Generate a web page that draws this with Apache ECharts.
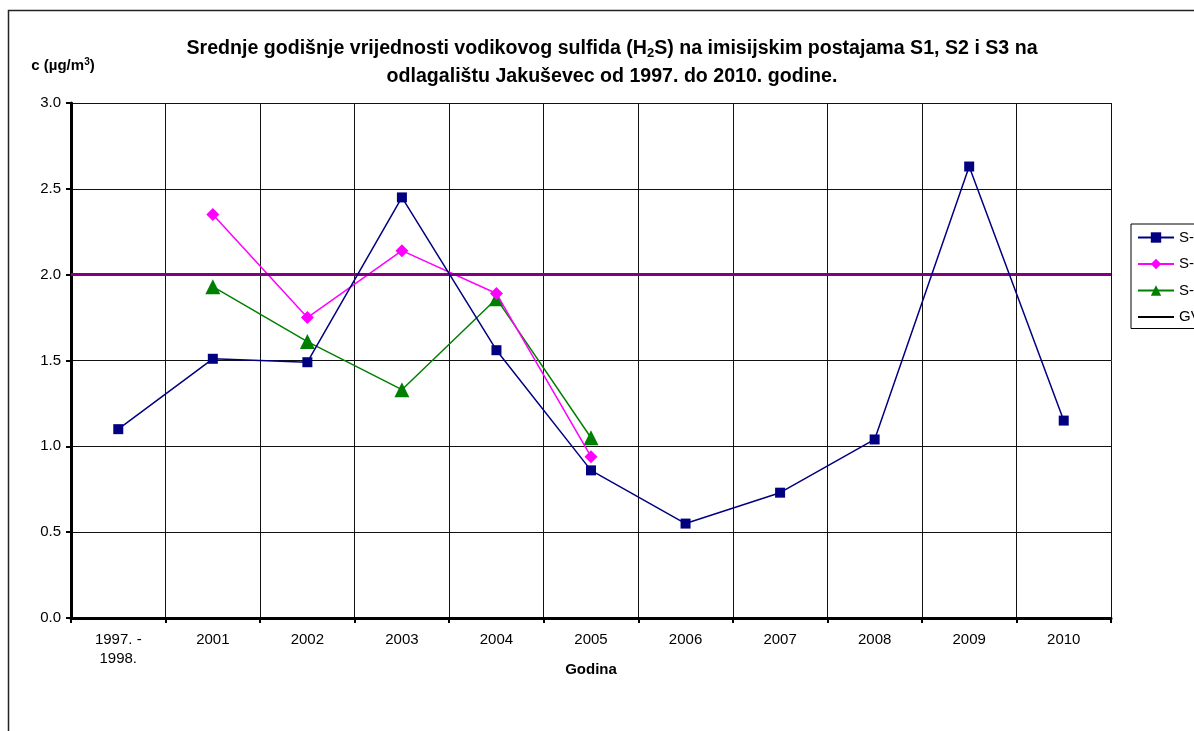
<!DOCTYPE html>
<html>
<head>
<meta charset="utf-8">
<script src="https://cdn.jsdelivr.net/npm/echarts@6/dist/echarts.min.js"></script>
<style>
  html, body { margin: 0; padding: 0; background: #fff; }
  #chart { width: 1194px; height: 731px; }
</style>
</head>
<body>
<div id="chart"></div>
<script>
// kategorije (godine)
const godine = ['1997. -\n1998.', '2001', '2002', '2003', '2004', '2005', '2006', '2007', '2008', '2009', '2010'];

// srednje godisnje vrijednosti H2S po postajama
const s1 = [1.10, 1.51, 1.49, 2.45, 1.56, 0.86, 0.55, 0.73, 1.04, 2.63, 1.15];
const s2 = [null, 2.35, 1.75, 2.14, 1.89, 0.94, null, null, null, null, null];
const s3 = [null, 1.93, 1.61, 1.33, 1.86, 1.05, null, null, null, null, null];

// granicna vrijednost
const gv = 2.0;

const yTicks = { min: 0, max: 3, interval: 0.5 };

const font = 'Liberation Sans, Arial, sans-serif';

const chart = echarts.init(document.getElementById('chart'));

const option = {
  backgroundColor: '#fff',
  animation: false,
  textStyle: { fontFamily: font },
  title: {
    text: 'Srednje godišnje vrijednosti vodikovog sulfida (H{sub|2}S) na imisijskim postajama S1, S2 i S3 na\nodlagalištu Jakuševec od 1997. do 2010. godine.',
    left: 607,
    top: 30,
    textAlign: 'center',
    textStyle: {
      fontFamily: font,
      fontSize: 19.6,
      fontWeight: 'bold',
      color: '#000',
      lineHeight: 28,
      rich: {
        sub: { fontSize: 13, fontWeight: 'bold', fontFamily: font, padding: [9, 0, 0, 0], lineHeight: 28 }
      }
    }
  },
  legend: {
    orient: 'vertical',
    left: 1131,
    top: 224,
    borderColor: '#000',
    borderWidth: 1,
    padding: [6, 20, 4, 6],
    itemGap: 11.5,
    itemWidth: 36,
    itemHeight: 13,
    textStyle: { fontFamily: font, fontSize: 15, color: '#000' },
    data: [
      'S-1', 'S-2', 'S-3',
      { name: 'GV', icon: 'path://M0,0L36,0L36,2L0,2Z', itemStyle: { color: '#000' } }
    ]
  },
  graphic: [{
    type: 'rect',
    shape: { x: 8.5, y: 10.5, width: 1200, height: 740 },
    style: { fill: 'none', stroke: '#222', lineWidth: 1.5 },
    silent: true
  }],
  grid: { left: 71, top: 103, right: 83, bottom: 113 },
  xAxis: {
    type: 'category',
    data: godine,
    boundaryGap: true,
    name: 'Godina',
    nameLocation: 'middle',
    nameGap: 44,
    nameMoveOverlap: false,
    nameTextStyle: { fontFamily: font, fontSize: 15, fontWeight: 'bold', color: '#000' },
    axisLine: { lineStyle: { color: '#000', width: 3 } },
    axisTick: { show: true, length: 5, lineStyle: { color: '#000', width: 2 } },
    axisLabel: { color: '#000', fontSize: 15, fontFamily: font, margin: 12, lineHeight: 19 },
    splitLine: { show: true, lineStyle: { color: '#111', width: 1 } }
  },
  yAxis: {
    type: 'value',
    min: yTicks.min,
    max: yTicks.max,
    interval: yTicks.interval,
    name: 'c (µg/m{sup|3})',
    nameLocation: 'end',
    nameGap: 28,
    nameTextStyle: {
      fontFamily: font, fontSize: 15, fontWeight: 'bold', color: '#000',
      padding: [0, 16, 0, 0],
      rich: {
        sup: { fontSize: 10, fontWeight: 'bold', fontFamily: font, padding: [0, 0, 8, 0] }
      }
    },
    axisLine: { show: true, lineStyle: { color: '#000', width: 3 } },
    axisTick: { show: true, length: 5, lineStyle: { color: '#000', width: 2 } },
    axisLabel: {
      color: '#000', fontSize: 15, fontFamily: font, margin: 10,
      formatter: v => v.toFixed(1)
    },
    splitLine: { show: true, lineStyle: { color: '#111', width: 1 } }
  },
  series: [
    {
      name: 'S-1',
      type: 'line',
      data: s1,
      color: '#000080',
      symbol: 'rect',
      symbolSize: 10,
      lineStyle: { width: 1.5 },
      itemStyle: { color: '#000080' },
      z: 5
    },
    {
      name: 'S-2',
      type: 'line',
      data: s2,
      color: '#ff00ff',
      symbol: 'diamond',
      symbolSize: 13,
      lineStyle: { width: 1.5 },
      itemStyle: { color: '#ff00ff' },
      z: 4
    },
    {
      name: 'S-3',
      type: 'line',
      data: s3,
      color: '#008000',
      symbol: 'triangle',
      symbolSize: 15,
      lineStyle: { width: 1.5 },
      itemStyle: { color: '#008000' },
      z: 3
    },
    {
      name: 'GV',
      type: 'line',
      data: [],
      color: '#000',
      symbol: 'none',
      lineStyle: { color: '#000', width: 1.5 },
      markLine: {
        silent: true,
        symbol: 'none',
        label: { show: false },
        lineStyle: { color: '#800080', width: 3, type: 'solid' },
        data: [{ yAxis: gv }]
      },
      z: 2
    }
  ]
};

chart.setOption(option);
</script>
</body>
</html>
